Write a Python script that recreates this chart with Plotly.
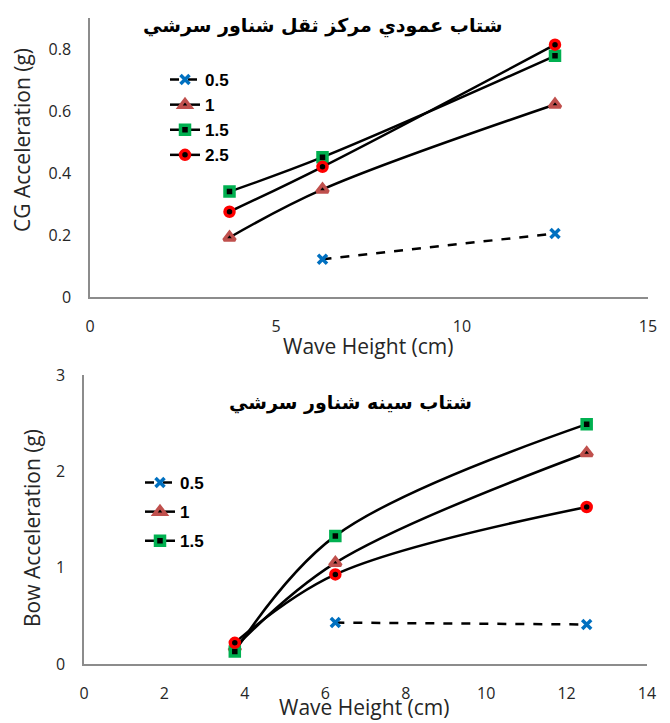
import plotly.graph_objects as go

# ---------------- data ----------------
wave_height = [3.75, 6.25, 12.5]
wave_height_05 = [6.25, 12.5]

series_names = ["0.5", "1", "1.5", "2.5"]

cg_05 = [0.122, 0.205]
cg_1 = [0.192, 0.347, 0.621]
cg_15 = [0.340, 0.451, 0.778]
cg_25 = [0.275, 0.420, 0.814]

bow_05 = [0.43, 0.41]
bow_1 = [0.17, 1.05, 2.19]
bow_15 = [0.13, 1.33, 2.49]
bow_25 = [0.22, 0.93, 1.63]

top_y_ticks = [0, 0.2, 0.4, 0.6, 0.8]
top_y_ticktext = ["0", "0.2", "0.4", "0.6", "0.8"]

top_title = "شتاب عمودي مركز ثقل شناور سرشي"
bottom_title = "شتاب سينه شناور سرشي"
x_title = "Wave Height (cm)"
top_y_title = "CG Acceleration (g)"
bottom_y_title = "Bow Acceleration (g)"

# ---------------- styles ----------------
OFF = 8  # page body margin
W, H = 670 - OFF, 723 - OFF
LINE_W = 2.5
styles = {
    "0.5": dict(symbol="x-thin", color="#0070C0", line=dict(color="#0070C0", width=3.5), size=9),
    "1": dict(symbol="triangle-up", color="#000000", line=dict(color="#C0504D", width=3.5), size=10),
    "1.5": dict(symbol="square", color="#000000", line=dict(color="#00B050", width=3.5), size=9),
    "2.5": dict(symbol="circle", color="#000000", line=dict(color="#FF0000", width=3.5), size=9),
}

fig = go.Figure()

def add(xs, ys, name, xa, ya, legend, showlegend=True):
    dash = "dash" if name == "0.5" else "solid"
    fig.add_trace(go.Scatter(
        x=xs, y=ys, name=name, mode="lines+markers",
        line=dict(color="black", width=LINE_W, dash=dash, shape="spline"),
        marker=styles[name], xaxis=xa, yaxis=ya, legend=legend,
        legendgroup=legend + "_" + name, showlegend=showlegend))

add(wave_height_05, cg_05, "0.5", "x", "y", "legend")
add(wave_height, cg_1, "1", "x", "y", "legend")
add(wave_height, cg_15, "1.5", "x", "y", "legend")
add(wave_height, cg_25, "2.5", "x", "y", "legend")

add(wave_height_05, bow_05, "0.5", "x2", "y2", "legend2")
add(wave_height, bow_1, "1", "x2", "y2", "legend2")
add(wave_height, bow_15, "1.5", "x2", "y2", "legend2")
add(wave_height, bow_25, "2.5", "x2", "y2", "legend2", showlegend=False)

tick_font = dict(family="Open Sans", size=16, color="#262626")
axis_common = dict(showline=True, linecolor="#8C8C8C", linewidth=1.5,
                   showgrid=False, zeroline=False, ticks="", automargin=False,
                   tickfont=tick_font, ticklabelstandoff=14)

def px(x):
    return (x - OFF) / W

def py(y):
    return 1 - (y - OFF) / H

legend_font = dict(family="Liberation Sans", size=17, color="black", weight="bold")

fig.update_layout(
    width=W, height=H,
    margin=dict(l=0, r=0, t=0, b=0, pad=0),
    paper_bgcolor="white", plot_bgcolor="white",
    xaxis=dict(domain=[px(90), px(648)], range=[0, 15], dtick=5, anchor="y", **axis_common),
    yaxis=dict(domain=[py(297), py(18)], range=[0, 0.9], anchor="x",
               tickvals=top_y_ticks, ticktext=top_y_ticktext, **axis_common),
    xaxis2=dict(domain=[px(84), px(647)], range=[0, 14], dtick=2, anchor="y2", **axis_common),
    yaxis2=dict(domain=[py(664), py(375)], range=[0, 3], dtick=1, anchor="x2", **axis_common),
    legend=dict(x=px(165), y=py(62), xanchor="left", yanchor="top",
                font=legend_font, bgcolor="rgba(0,0,0,0)", tracegroupgap=0, itemwidth=30),
    legend2=dict(x=px(140), y=py(465), xanchor="left", yanchor="top",
                 font=legend_font, bgcolor="rgba(0,0,0,0)", tracegroupgap=4, itemwidth=30),
    showlegend=True,
)

ann_font = dict(family="Open Sans", size=21, color="#262626")
title_font = dict(family="DejaVu Sans", size=19, color="black", weight="bold")
annotations = [
    dict(text=top_title, x=px(323), y=py(26), font=title_font),
    dict(text=bottom_title, x=px(350), y=py(403), font=title_font),
    dict(text=x_title, x=px(368), y=py(346), font=ann_font),
    dict(text=x_title, x=px(364), y=py(707), font=ann_font),
    dict(text=top_y_title, x=px(22), y=py(140), font=ann_font, textangle=-90),
    dict(text=bottom_y_title, x=px(32), y=py(528), font=ann_font, textangle=-90),
]
for a in annotations:
    fig.add_annotation(xref="paper", yref="paper", showarrow=False,
                       xanchor="center", yanchor="middle", **a)

fig.write_html("out.html")
